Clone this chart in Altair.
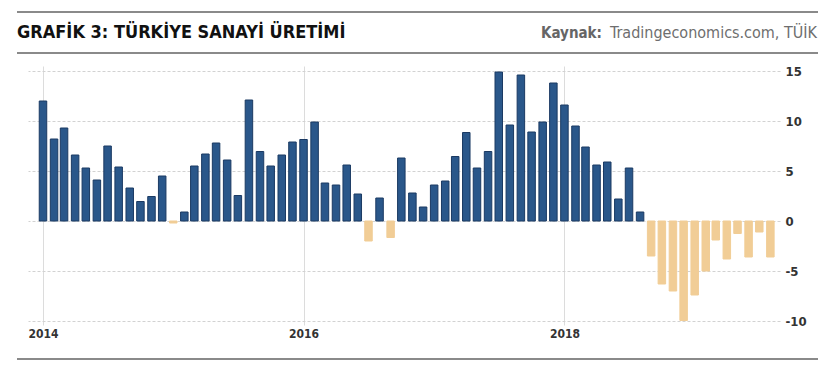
import altair as alt
import pandas as pd

# Monthly categories (Jan 2014 .. Aug 2019)
months = pd.date_range("2014-01-01", "2019-08-01", freq="MS").strftime("%Y-%m-%d").tolist()

values_2014 = [12.0, 8.2, 9.3, 6.6, 5.3, 4.1, 7.5, 5.4, 3.3, 1.95, 2.45, 4.5]
values_2015 = [-0.2, 0.9, 5.5, 6.7, 7.8, 6.1, 2.55, 12.1, 6.95, 5.5, 6.6, 7.9]
values_2016 = [8.15, 9.9, 3.8, 3.6, 5.6, 2.7, -2.0, 2.3, -1.65, 6.3, 2.8, 1.4]
values_2017 = [3.6, 4.0, 6.45, 8.85, 5.3, 6.95, 14.9, 9.6, 14.6, 8.9, 9.9, 13.8]
values_2018 = [11.6, 9.5, 7.4, 5.6, 5.9, 2.2, 5.3, 0.9, -3.5, -6.3, -7.0, -9.95]
values_2019 = [-7.4, -5.0, -1.9, -3.8, -1.25, -3.6, -1.1, -3.6]
values = values_2014 + values_2015 + values_2016 + values_2017 + values_2018 + values_2019

y_ticks = [-10, -5, 0, 5, 10, 15]
x_tick_years = [2014, 2016, 2018]

title_text = "GRAFİK 3: TÜRKİYE SANAYİ ÜRETİMİ"
source_label = "Kaynak:"
source_text = "Tradingeconomics.com, TÜİK"

df = pd.DataFrame({"date": months, "value": values})

BLUE = "#2a578a"
BLUE_EDGE = "#1b3a63"
TAN = "#f1cd96"
FONT = "Liberation Sans Narrow, DejaVu Sans Condensed, Roboto, sans-serif"

W, H = 752, 259

bars = alt.Chart(df).mark_bar(width=7.5, strokeWidth=1).encode(
    x=alt.X(
        "date:T",
        scale=alt.Scale(
            type="utc",
            domain=[
                alt.DateTime(year=2013, month=12, date=4, utc=True),
                alt.DateTime(year=2019, month=8, date=14, utc=True),
            ],
        ),
        axis=alt.Axis(
            values=[alt.DateTime(year=y, month=1, date=1, utc=True) for y in x_tick_years],
            format="%Y",
            title=None,
            grid=True,
            gridColor="#dcdcdc",
            gridWidth=1,
            domain=False,
            ticks=False,
            labelPadding=3,
            labelFont=FONT,
            labelFontSize=12,
            labelFontWeight="bold",
            labelColor="#333333",
        ),
    ),
    y=alt.Y(
        "value:Q",
        scale=alt.Scale(domain=[-10.4, 15.5], nice=False, zero=False),
        axis=alt.Axis(
            orient="right",
            values=y_ticks,
            labelExpr="datum.value + ''",
            title=None,
            grid=True,
            gridColor="#d2d2d2",
            gridDash=[3, 2],
            domain=False,
            ticks=False,
            labelPadding=5,
            labelFont=FONT,
            labelFontSize=13,
            labelFontWeight="bold",
            labelColor="#333333",
        ),
    ),
    fill=alt.condition(alt.datum.value > 0, alt.value(BLUE), alt.value(TAN)),
    stroke=alt.condition(alt.datum.value > 0, alt.value(BLUE_EDGE), alt.value(TAN)),
)

one = pd.DataFrame({"a": [0]})

def rule(y):
    return alt.Chart(one).mark_rule(color="#8a8a8a", strokeWidth=2).encode(
        x=alt.value(-11), x2=alt.value(790), y=alt.value(y)
    )

title = alt.Chart(pd.DataFrame({"t": [title_text]})).mark_text(
    align="left", baseline="middle", font=FONT, fontSize=18, fontWeight="bold", color="#111111"
).encode(x=alt.value(-11), y=alt.value(-33), text="t:N")

src_label = alt.Chart(pd.DataFrame({"t": [source_label]})).mark_text(
    align="left", baseline="middle", font=FONT, fontSize=15, fontWeight="bold", color="#666666"
).encode(x=alt.value(513), y=alt.value(-33), text="t:N")

src_text = alt.Chart(pd.DataFrame({"t": [source_text]})).mark_text(
    align="right", baseline="middle", font=FONT, fontSize=16, color="#6e6e6e"
).encode(x=alt.value(789), y=alt.value(-33), text="t:N")

chart = alt.layer(
    bars, rule(-54), rule(-13), rule(293), title, src_label, src_text
).properties(
    width=W,
    height=H,
    padding={"left": 20, "top": 58, "right": 46, "bottom": 40},
    autosize=alt.AutoSizeParams(type="none"),
).configure_view(stroke=None)

chart.save("out.html", embed_options={"renderer": "svg", "actions": False})
